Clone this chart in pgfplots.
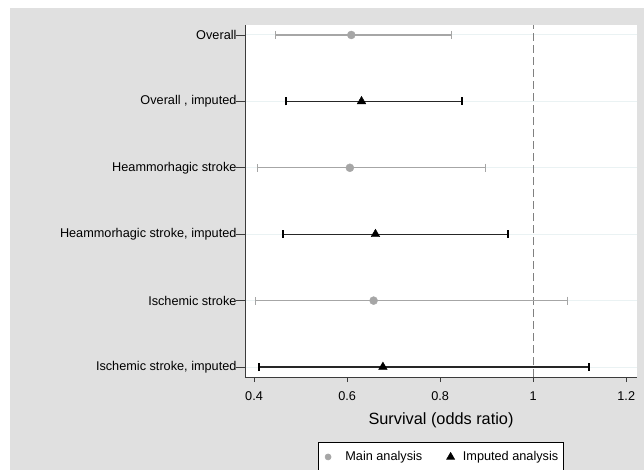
\documentclass[border=0pt]{standalone}
\usepackage{pgfplots}
\pgfplotsset{compat=1.18}
\usepackage{fontspec}
\setmainfont{Liberation Sans}
\definecolor{bg}{RGB}{224,224,224}
\definecolor{maingray}{RGB}{166,166,166}
\definecolor{gridc}{RGB}{234,242,243}
\definecolor{axc}{RGB}{60,60,60}
\newcommand{\fa}{\fontsize{12.7}{15}\selectfont}
\newcommand{\fb}{\fontsize{16.3}{19}\selectfont}
\pgfplotsset{
  legcirc/.style={legend image code/.code={\path (-1pt,0pt) (20pt,0pt); \draw[##1, mark size=3pt] plot coordinates {(5pt,0pt)};}},
  legtri/.style={legend image code/.code={\path (-1pt,0pt) (15pt,0pt); \draw[##1, mark size=4.5pt] plot coordinates {(5pt,0pt)};}},
}
\begin{document}
\begin{tikzpicture}[font=\fa]
\useasboundingbox (0,0) rectangle (644pt,-470pt);
\fill[bg] (10pt,-8pt) rectangle (644pt,-470pt);
\begin{axis}[
  at={(245pt,-377pt)}, anchor=south west, scale only axis,
  width=392pt, height=352pt,
  xmin=0.3806, xmax=1.2231, ymin=0.85, ymax=6.15,
  axis x line=bottom, axis y line=left,
  axis line style={-, color=axc, line width=0.8pt},
  axis background/.style={fill=white},
  tick align=outside, major tick length=5pt,
  tick style={color=axc, line width=0.8pt},
  ytick style={/pgfplots/major tick length=9pt},
  ytick={1,2,3,4,5,6},
  yticklabels={{Ischemic stroke, imputed},{Ischemic stroke},{Heammorhagic stroke, imputed},{Heammorhagic stroke},{Overall , imputed},{Overall\ }},
  xtick={0.4,0.6,0.8,1,1.2},
  xticklabels={0.4,0.6,0.8,1,1.2},
  ticklabel style={font=\fa},
  xticklabel style={yshift=-6pt},
  ymajorgrids, grid style={gridc, line width=1pt},
  xlabel={Survival (odds ratio)},
  xlabel style={font=\fb, at={(axis description cs:0.5,-0.124)}, anchor=center},
  legend style={at={(0.5,-0.1855)}, anchor=north, draw=black, fill=white,
    font=\fa, line width=0.6pt, inner xsep=3pt, inner ysep=7pt,
    /tikz/every even column/.append style={column sep=20pt}},
  legend columns=2,
]
\addplot[dashed, color=gray, line width=0.8pt, dash pattern=on 8pt off 4pt, forget plot]
  coordinates {(1,0.85) (1,6.15)};
\addplot[only marks, mark=*, mark size=4pt, color=maingray, legcirc,
  error bars/.cd, x dir=both, x explicit, error mark=|,
  error bar style={line width=1.4pt, maingray},
  error mark options={mark size=4pt, line width=1pt, maingray}]
  table[x=x, y=y, x error plus expr=\thisrow{hi}-\thisrow{x}, x error minus expr=\thisrow{x}-\thisrow{lo}] {
y x lo hi
6 0.609 0.447 0.824
4 0.606 0.408 0.898
2 0.657 0.404 1.074
};
\addlegendentry{Main analysis}
\addplot[only marks, mark=triangle*, mark size=5pt, color=black, legtri,
  error bars/.cd, x dir=both, x explicit, error mark=|,
  error bar style={line width=1.3pt, black!85},
  error mark options={mark size=4pt, line width=1.3pt, black}]
  table[x=x, y=y, x error plus expr=\thisrow{hi}-\thisrow{x}, x error minus expr=\thisrow{x}-\thisrow{lo}] {
y x lo hi
5 0.631 0.469 0.847
3 0.661 0.462 0.946
1 0.677 0.411 1.120
};
\addlegendentry{Imputed analysis\hspace{7pt}}
\end{axis}
\end{tikzpicture}
\end{document}
